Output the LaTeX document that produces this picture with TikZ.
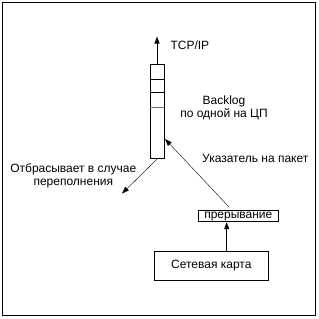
\documentclass[tikz,border=0pt]{standalone}
\usepackage{fontspec}
\setmainfont{Liberation Sans}
\usetikzlibrary{positioning,arrows.meta,calc}

\begin{document}
\begin{tikzpicture}[x=1pt, y=-1pt, font=\fontsize{12}{12.4}\selectfont, >={Triangle[length=7pt,width=5pt]},
  box/.style={draw, thick, inner sep=0pt}]
  \useasboundingbox (0,0) rectangle (319,319);
  \draw[thick] (2,2) rectangle (315,315);
  % backlog queue
  \node[box, minimum width=14pt, minimum height=94.5pt] (queue) at (157,111.5) {};
  \draw[thick] (150,79) -- (164,79);
  \draw[thick] (150,92.7) -- (164,92.7);
  \draw[thick, black!55] (150,107) -- (164,107);
  \coordinate (up) at (157,36.5);
  \draw[thick,->] (queue.north) -- (up);
  \node[anchor=west] (tcp) at (167,45) {TCP/IP};
  \node[align=center] (blog) at (224,108) {Backlog\\по одной на ЦП};
  % drop on overflow
  \coordinate (drop) at (122,193.5);
  \draw[->] (queue.south) -- (drop);
  \node[align=center] (droptxt) at (73.3,176) {Отбрасывает в случае\\переполнения};
  % interrupt and network card
  \node[box, minimum width=80pt, minimum height=11pt] (irq) at (238.3,216.3) {прерывание};
  \node[box, minimum width=114pt, minimum height=29pt] (card) at (211.3,265.5) {Сетевая карта};
  \coordinate (hit) at (165,139);
  \coordinate (tail) at (229,207);
  \draw[->] (tail) -- (hit);
  \node (ptr) at (255.3,158.3) {Указатель на пакет};
  \draw[thick,->] (card.north -| 226.7,0) -- (irq.south -| 226.7,0);
\end{tikzpicture}
\end{document}
